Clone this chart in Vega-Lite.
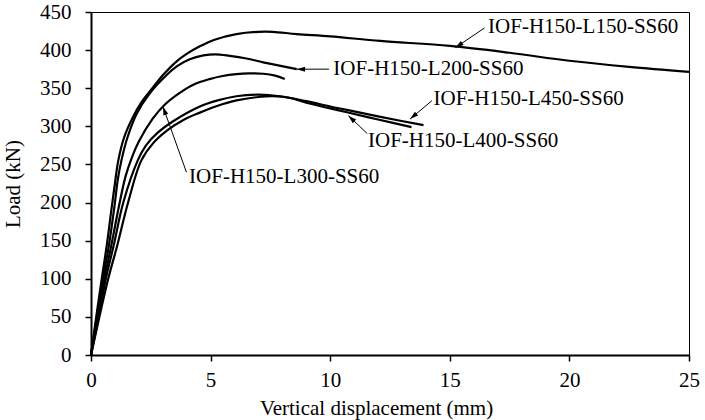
{
  "$schema": "https://vega.github.io/schema/vega-lite/v6.json",
  "width": 598,
  "height": 343,
  "autosize": {"type": "none"},
  "padding": {"left": 91, "top": 12, "right": 16, "bottom": 65},
  "background": "white",
  "config": {
    "view": {"stroke": "black", "strokeWidth": 1},
    "font": "Liberation Serif",
    "axis": {
      "grid": false,
      "domainColor": "black",
      "domainWidth": 2,
      "tickColor": "black",
      "tickWidth": 1.5,
      "tickSize": 6,
      "labelFont": "Liberation Serif",
      "labelFontSize": 21,
      "labelColor": "black",
      "labelOverlap": false,
      "labelFlush": false,
      "titleFont": "Liberation Serif",
      "titleFontSize": 21,
      "titleFontWeight": "normal",
      "titleColor": "black"
    },
    "axisX": {"tickCount": 5, "labelPadding": 8, "titlePadding": 7},
    "axisY": {"tickCount": 9, "labelPadding": 14, "titlePadding": 16}
  },
  "datasets": {
    "curves": [
      {"series": "IOF-H150-L150-SS60", "d": 0, "load": 0},
      {"series": "IOF-H150-L150-SS60", "d": 0.22, "load": 50},
      {"series": "IOF-H150-L150-SS60", "d": 0.45, "load": 100},
      {"series": "IOF-H150-L150-SS60", "d": 0.66, "load": 144},
      {"series": "IOF-H150-L150-SS60", "d": 0.85, "load": 190},
      {"series": "IOF-H150-L150-SS60", "d": 1.0, "load": 225},
      {"series": "IOF-H150-L150-SS60", "d": 1.14, "load": 255},
      {"series": "IOF-H150-L150-SS60", "d": 1.38, "load": 285},
      {"series": "IOF-H150-L150-SS60", "d": 1.75, "load": 312},
      {"series": "IOF-H150-L150-SS60", "d": 2.1, "load": 331},
      {"series": "IOF-H150-L150-SS60", "d": 2.59, "load": 351},
      {"series": "IOF-H150-L150-SS60", "d": 3.0, "load": 367},
      {"series": "IOF-H150-L150-SS60", "d": 3.57, "load": 385},
      {"series": "IOF-H150-L150-SS60", "d": 4.0, "load": 395},
      {"series": "IOF-H150-L150-SS60", "d": 4.55, "load": 405},
      {"series": "IOF-H150-L150-SS60", "d": 5.2, "load": 414},
      {"series": "IOF-H150-L150-SS60", "d": 6.08, "load": 421},
      {"series": "IOF-H150-L150-SS60", "d": 7.0, "load": 424},
      {"series": "IOF-H150-L150-SS60", "d": 7.6, "load": 424},
      {"series": "IOF-H150-L150-SS60", "d": 8.6, "load": 421},
      {"series": "IOF-H150-L150-SS60", "d": 10, "load": 418},
      {"series": "IOF-H150-L150-SS60", "d": 12.1, "load": 412},
      {"series": "IOF-H150-L150-SS60", "d": 15, "load": 405.5},
      {"series": "IOF-H150-L150-SS60", "d": 17.5, "load": 396.5},
      {"series": "IOF-H150-L150-SS60", "d": 20, "load": 386},
      {"series": "IOF-H150-L150-SS60", "d": 22.5, "load": 378},
      {"series": "IOF-H150-L150-SS60", "d": 25, "load": 371.5},

      {"series": "IOF-H150-L200-SS60", "d": 0, "load": 0},
      {"series": "IOF-H150-L200-SS60", "d": 0.24, "load": 50},
      {"series": "IOF-H150-L200-SS60", "d": 0.5, "load": 100},
      {"series": "IOF-H150-L200-SS60", "d": 0.75, "load": 144},
      {"series": "IOF-H150-L200-SS60", "d": 0.98, "load": 195},
      {"series": "IOF-H150-L200-SS60", "d": 1.12, "load": 230},
      {"series": "IOF-H150-L200-SS60", "d": 1.27, "load": 255},
      {"series": "IOF-H150-L200-SS60", "d": 1.52, "load": 285},
      {"series": "IOF-H150-L200-SS60", "d": 1.9, "load": 316},
      {"series": "IOF-H150-L200-SS60", "d": 2.45, "load": 343},
      {"series": "IOF-H150-L200-SS60", "d": 3.15, "load": 367},
      {"series": "IOF-H150-L200-SS60", "d": 3.6, "load": 379},
      {"series": "IOF-H150-L200-SS60", "d": 4.13, "load": 388},
      {"series": "IOF-H150-L200-SS60", "d": 4.7, "load": 393},
      {"series": "IOF-H150-L200-SS60", "d": 5.2, "load": 394.5},
      {"series": "IOF-H150-L200-SS60", "d": 5.8, "load": 392.5},
      {"series": "IOF-H150-L200-SS60", "d": 6.5, "load": 389},
      {"series": "IOF-H150-L200-SS60", "d": 7.2, "load": 384},
      {"series": "IOF-H150-L200-SS60", "d": 8.6, "load": 375},

      {"series": "IOF-H150-L300-SS60", "d": 0, "load": 0},
      {"series": "IOF-H150-L300-SS60", "d": 0.28, "load": 50},
      {"series": "IOF-H150-L300-SS60", "d": 0.56, "load": 100},
      {"series": "IOF-H150-L300-SS60", "d": 0.85, "load": 144},
      {"series": "IOF-H150-L300-SS60", "d": 1.2, "load": 200},
      {"series": "IOF-H150-L300-SS60", "d": 1.45, "load": 235},
      {"series": "IOF-H150-L300-SS60", "d": 1.72, "load": 260},
      {"series": "IOF-H150-L300-SS60", "d": 2.0, "load": 280},
      {"series": "IOF-H150-L300-SS60", "d": 2.58, "load": 310},
      {"series": "IOF-H150-L300-SS60", "d": 3.1, "load": 329},
      {"series": "IOF-H150-L300-SS60", "d": 3.71, "load": 344},
      {"series": "IOF-H150-L300-SS60", "d": 4.3, "load": 355},
      {"series": "IOF-H150-L300-SS60", "d": 4.96, "load": 362},
      {"series": "IOF-H150-L300-SS60", "d": 5.5, "load": 366},
      {"series": "IOF-H150-L300-SS60", "d": 6.08, "load": 368.5},
      {"series": "IOF-H150-L300-SS60", "d": 6.6, "load": 369.5},
      {"series": "IOF-H150-L300-SS60", "d": 7.2, "load": 369},
      {"series": "IOF-H150-L300-SS60", "d": 7.7, "load": 366.5},
      {"series": "IOF-H150-L300-SS60", "d": 8.1, "load": 362},

      {"series": "IOF-H150-L450-SS60", "d": 0, "load": 0},
      {"series": "IOF-H150-L450-SS60", "d": 0.32, "load": 50},
      {"series": "IOF-H150-L450-SS60", "d": 0.62, "load": 100},
      {"series": "IOF-H150-L450-SS60", "d": 0.95, "load": 144},
      {"series": "IOF-H150-L450-SS60", "d": 1.35, "load": 200},
      {"series": "IOF-H150-L450-SS60", "d": 1.95, "load": 255},
      {"series": "IOF-H150-L450-SS60", "d": 2.3, "load": 275},
      {"series": "IOF-H150-L450-SS60", "d": 2.8, "load": 292},
      {"series": "IOF-H150-L450-SS60", "d": 3.4, "load": 306},
      {"series": "IOF-H150-L450-SS60", "d": 4.55, "load": 326},
      {"series": "IOF-H150-L450-SS60", "d": 5.3, "load": 334},
      {"series": "IOF-H150-L450-SS60", "d": 6.08, "load": 339.5},
      {"series": "IOF-H150-L450-SS60", "d": 7.0, "load": 341.5},
      {"series": "IOF-H150-L450-SS60", "d": 7.9, "load": 339.5},
      {"series": "IOF-H150-L450-SS60", "d": 9.0, "load": 333},
      {"series": "IOF-H150-L450-SS60", "d": 10.0, "load": 326},
      {"series": "IOF-H150-L450-SS60", "d": 10.7, "load": 321.5},
      {"series": "IOF-H150-L450-SS60", "d": 12.0, "load": 313},
      {"series": "IOF-H150-L450-SS60", "d": 13.9, "load": 301.5},

      {"series": "IOF-H150-L400-SS60", "d": 0, "load": 0},
      {"series": "IOF-H150-L400-SS60", "d": 0.35, "load": 50},
      {"series": "IOF-H150-L400-SS60", "d": 0.72, "load": 100},
      {"series": "IOF-H150-L400-SS60", "d": 1.1, "load": 144},
      {"series": "IOF-H150-L400-SS60", "d": 1.55, "load": 200},
      {"series": "IOF-H150-L400-SS60", "d": 2.1, "load": 255},
      {"series": "IOF-H150-L400-SS60", "d": 2.6, "load": 278},
      {"series": "IOF-H150-L400-SS60", "d": 3.2, "load": 295},
      {"series": "IOF-H150-L400-SS60", "d": 3.9, "load": 309},
      {"series": "IOF-H150-L400-SS60", "d": 4.55, "load": 318},
      {"series": "IOF-H150-L400-SS60", "d": 5.3, "load": 327},
      {"series": "IOF-H150-L400-SS60", "d": 6.08, "load": 334},
      {"series": "IOF-H150-L400-SS60", "d": 7.0, "load": 338.5},
      {"series": "IOF-H150-L400-SS60", "d": 7.6, "load": 339.5},
      {"series": "IOF-H150-L400-SS60", "d": 8.3, "load": 337.5},
      {"series": "IOF-H150-L400-SS60", "d": 9.0, "load": 331},
      {"series": "IOF-H150-L400-SS60", "d": 10.0, "load": 323.5},
      {"series": "IOF-H150-L400-SS60", "d": 10.7, "load": 318.5},
      {"series": "IOF-H150-L400-SS60", "d": 12.0, "load": 309},
      {"series": "IOF-H150-L400-SS60", "d": 13.4, "load": 299}
    ],
    "labels": [
      {"name": "IOF-H150-L150-SS60", "x": 16.6, "y": 430.4},
      {"name": "IOF-H150-L200-SS60", "x": 10.13, "y": 375},
      {"name": "IOF-H150-L450-SS60", "x": 14.32, "y": 335.8},
      {"name": "IOF-H150-L400-SS60", "x": 11.58, "y": 281},
      {"name": "IOF-H150-L300-SS60", "x": 4.1, "y": 233}
    ],
    "arrows": [
      {"x0": 16.45, "y0": 429, "x": 15.23, "y": 403.2},
      {"x0": 9.95, "y0": 375, "x": 8.6, "y": 375},
      {"x0": 14.25, "y0": 333.6, "x": 13.34, "y": 309.7},
      {"x0": 11.55, "y0": 290.5, "x": 10.76, "y": 314},
      {"x0": 3.99, "y0": 239.8, "x": 3.01, "y": 325.7}
    ]
  },
  "layer": [
    {
      "data": {"name": "curves"},
      "mark": {"type": "line", "interpolate": "catmull-rom", "color": "black", "strokeWidth": 2.2},
      "encoding": {
        "x": {
          "field": "d",
          "type": "quantitative",
          "scale": {"domain": [0, 25], "nice": false},
          "axis": {"title": "Vertical displacement (mm)", "titleX": 285}
        },
        "y": {
          "field": "load",
          "type": "quantitative",
          "scale": {"domain": [0, 450], "nice": false},
          "axis": {"title": "Load (kN)"}
        },
        "detail": {"field": "series"}
      }
    },
    {
      "data": {"name": "arrows"},
      "mark": {"type": "rule", "color": "black", "strokeWidth": 1},
      "encoding": {
        "x": {"field": "x0", "type": "quantitative"},
        "y": {"field": "y0", "type": "quantitative"},
        "x2": {"field": "x"},
        "y2": {"field": "y"}
      }
    },
    {
      "data": {"name": "arrows"},
      "mark": {
        "type": "point",
        "shape": "M0,0L-0.6,2L0.6,2Z",
        "filled": true,
        "opacity": 1,
        "color": "black",
        "size": 70,
        "angle": {"expr": "atan2(scale('x', datum.x) - scale('x', datum.x0), scale('y', datum.y0) - scale('y', datum.y)) * 180 / PI"}
      },
      "encoding": {
        "x": {"field": "x", "type": "quantitative"},
        "y": {"field": "y", "type": "quantitative"}
      }
    },
    {
      "data": {"name": "labels"},
      "mark": {"type": "text", "align": "left", "baseline": "middle", "fontSize": 21, "font": "Liberation Serif", "color": "black"},
      "encoding": {
        "x": {"field": "x", "type": "quantitative"},
        "y": {"field": "y", "type": "quantitative"},
        "text": {"field": "name"}
      }
    }
  ]
}
